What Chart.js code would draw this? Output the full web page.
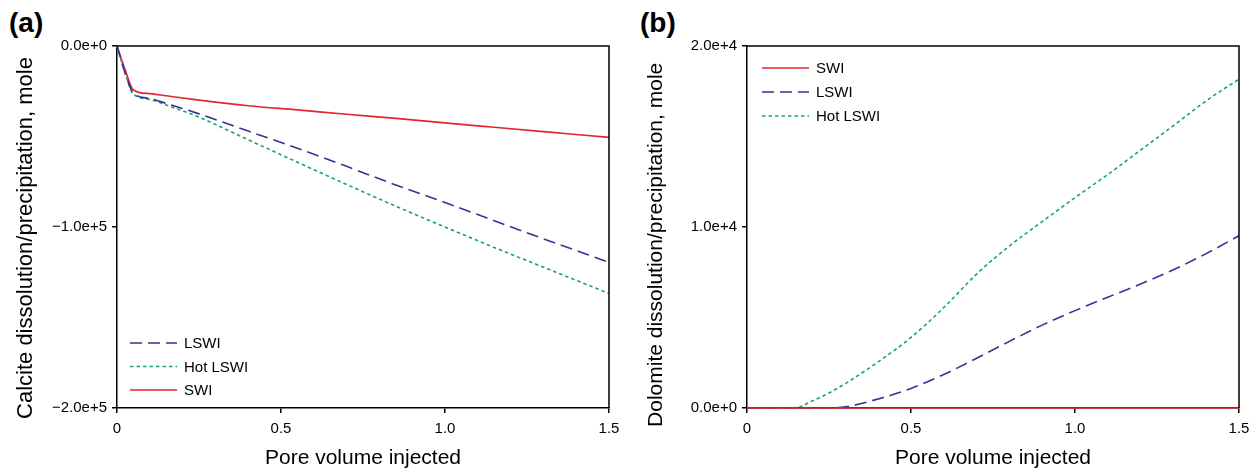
<!DOCTYPE html>
<html>
<head>
<meta charset="utf-8">
<script src="https://cdn.jsdelivr.net/npm/chart.js@4/dist/chart.umd.min.js"></script>
<style>
body{margin:0;background:#fff;width:1257px;height:469px;overflow:hidden;position:relative;font-family:Arial,"Liberation Sans",sans-serif}
canvas{position:absolute;top:0}
#c1{left:0}
#c2{left:628px}
.lbl{position:absolute;top:9px;font-weight:bold;font-size:28px;line-height:1}
</style>
</head>
<body>
<div class="lbl" style="left:9px">(a)</div>
<div class="lbl" style="left:640px">(b)</div>
<canvas id="c1" width="628" height="469"></canvas>
<canvas id="c2" width="629" height="469"></canvas>
<script>
// (a) calcite
var pvA = [0, 0.025, 0.05, 0.1, 0.15, 0.25, 0.4, 0.55, 0.7, 0.85, 1.0, 1.15, 1.3, 1.5];
var swiA = [0, -13300, -24300, -26300, -27500, -29900, -33000, -35300, -37700, -40000, -42500, -44900, -47300, -50500];
var lswiA = [0, -15000, -26100, -29000, -31700, -37500, -47000, -56500, -66500, -76800, -86500, -96500, -106500, -119500];
var hotA = [0, -15200, -26500, -29500, -32600, -39300, -51800, -64200, -76500, -88500, -100000, -111300, -122200, -136700];

// (b) dolomite
var pvB = [0, 0.1, 0.15, 0.2, 0.25, 0.3, 0.4, 0.5, 0.6, 0.7, 0.8, 0.9, 1.0, 1.1, 1.2, 1.3, 1.4, 1.5];
var swiB = [0, 0, 0, 0, 0, 0, 0, 0, 0, 0, 0, 0, 0, 0, 0, 0, 0, 0];
var lswiB = [0, 0, 0, 0, 0, 60, 500, 1080, 1850, 2750, 3680, 4580, 5380, 6120, 6850, 7640, 8530, 9520];
var hotB = [0, 0, 20, 400, 830, 1350, 2550, 3900, 5550, 7400, 8950, 10300, 11620, 12900, 14250, 15600, 16970, 18170];

var xTicks = [0, 0.5, 1.0, 1.5];

var FONT = 'Arial, "Liberation Sans", sans-serif';
var RED = '#e3262d', BLUE = '#3a3197', GREEN = '#14a66e';

function pts(xs, ys) {
  return xs.map(function (x, i) { return {x: x, y: ys[i]}; });
}

function swi(xs, ys) {
  return {label: 'SWI', data: pts(xs, ys), borderColor: RED, borderWidth: 1.7, clip: false};
}
function lswi(xs, ys) {
  return {label: 'LSWI', data: pts(xs, ys), borderColor: BLUE, borderWidth: 1.6, borderDash: [12, 6], clip: false};
}
function hot(xs, ys) {
  return {label: 'Hot LSWI', data: pts(xs, ys), borderColor: GREEN, borderWidth: 1.6, borderDash: [3.5, 3], clip: false};
}

// top/right frame and the in-plot legend
var boxLegend = {
  id: 'boxLegend',
  afterDatasetsDraw: function (chart, args, opts) {
    var ctx = chart.ctx, a = chart.chartArea;
    ctx.save();
    ctx.strokeStyle = '#000';
    ctx.lineWidth = 1.5;
    ctx.beginPath();
    ctx.moveTo(a.left, a.top);
    ctx.lineTo(a.right, a.top);
    ctx.lineTo(a.right, a.bottom);
    ctx.stroke();

    ctx.font = '15px ' + FONT;
    ctx.textBaseline = 'middle';
    ctx.fillStyle = '#000';
    chart.data.datasets.forEach(function (ds, i) {
      var y = opts.y + i * opts.gap;
      ctx.strokeStyle = ds.borderColor;
      ctx.lineWidth = 1.6;
      ctx.setLineDash(ds.borderDash || []);
      ctx.beginPath();
      ctx.moveTo(opts.x, y);
      ctx.lineTo(opts.x + 47, y);
      ctx.stroke();
      ctx.setLineDash([]);
      ctx.fillText(ds.label, opts.x + 54, y + 1);
    });
    ctx.restore();
  }
};

function expLabel(v) {
  return v.toExponential(1).replace('-', '\u2212');
}

function makeChart(id, datasets, yMin, yMax, yStep, yTitle, titleSize, titlePad, yWidth, rightPad, legendPos) {
  return new Chart(id, {
    type: 'line',
    data: {datasets: datasets},
    plugins: [boxLegend],
    options: {
      responsive: false,
      animation: false,
      layout: {padding: {top: 46, right: rightPad, left: 0, bottom: 0}},
      elements: {
        point: {radius: 0},
        line: {fill: false, cubicInterpolationMode: 'monotone'}
      },
      plugins: {
        legend: {display: false},
        tooltip: {enabled: false},
        boxLegend: legendPos
      },
      scales: {
        x: {
          type: 'linear',
          min: 0, max: 1.5,
          afterFit: function (s) { s.height = 61; },
          afterBuildTicks: function (s) { s.ticks = xTicks.map(function (v) { return {value: v}; }); },
          ticks: {
            padding: 7,
            color: '#000',
            font: {size: 15, family: FONT},
            maxRotation: 0,
            callback: function (v) { return v === 0 ? '0' : v.toFixed(1); }
          },
          grid: {drawOnChartArea: false, drawTicks: true, tickLength: 5, color: '#000', lineWidth: 1.5},
          border: {display: true, color: '#000', width: 1.5},
          title: {display: true, text: 'Pore volume injected', color: '#000',
                  font: {size: 21, family: FONT}, padding: {top: 0, bottom: -2}}
        },
        y: {
          type: 'linear',
          min: yMin, max: yMax,
          afterFit: function (s) { s.width = yWidth; },
          ticks: {
            stepSize: yStep,
            padding: 5,
            color: '#000',
            font: {size: 15, family: FONT},
            callback: expLabel
          },
          grid: {drawOnChartArea: false, drawTicks: true, tickLength: 5, color: '#000', lineWidth: 1.5},
          border: {display: true, color: '#000', width: 1.5},
          title: {display: true, text: yTitle, color: '#000',
                  font: {size: titleSize, family: FONT}, padding: {top: titlePad, bottom: 0}}
        }
      }
    }
  });
}

makeChart('c1',
  [lswi(pvA, lswiA), hot(pvA, hotA), swi(pvA, swiA)],
  -200000, 0, 100000,
  'Calcite dissolution/precipitation, mole\u2003', 22, 13,
  117, 19, {x: 130, y: 343, gap: 23.5});

makeChart('c2',
  [swi(pvB, swiB), lswi(pvB, lswiB), hot(pvB, hotB)],
  0, 20000, 10000,
  'Dolomite dissolution/precipitation, mole\u2003\u2002\u2009', 21, 16,
  119, 18, {x: 134, y: 68, gap: 24});
</script>
</body>
</html>
